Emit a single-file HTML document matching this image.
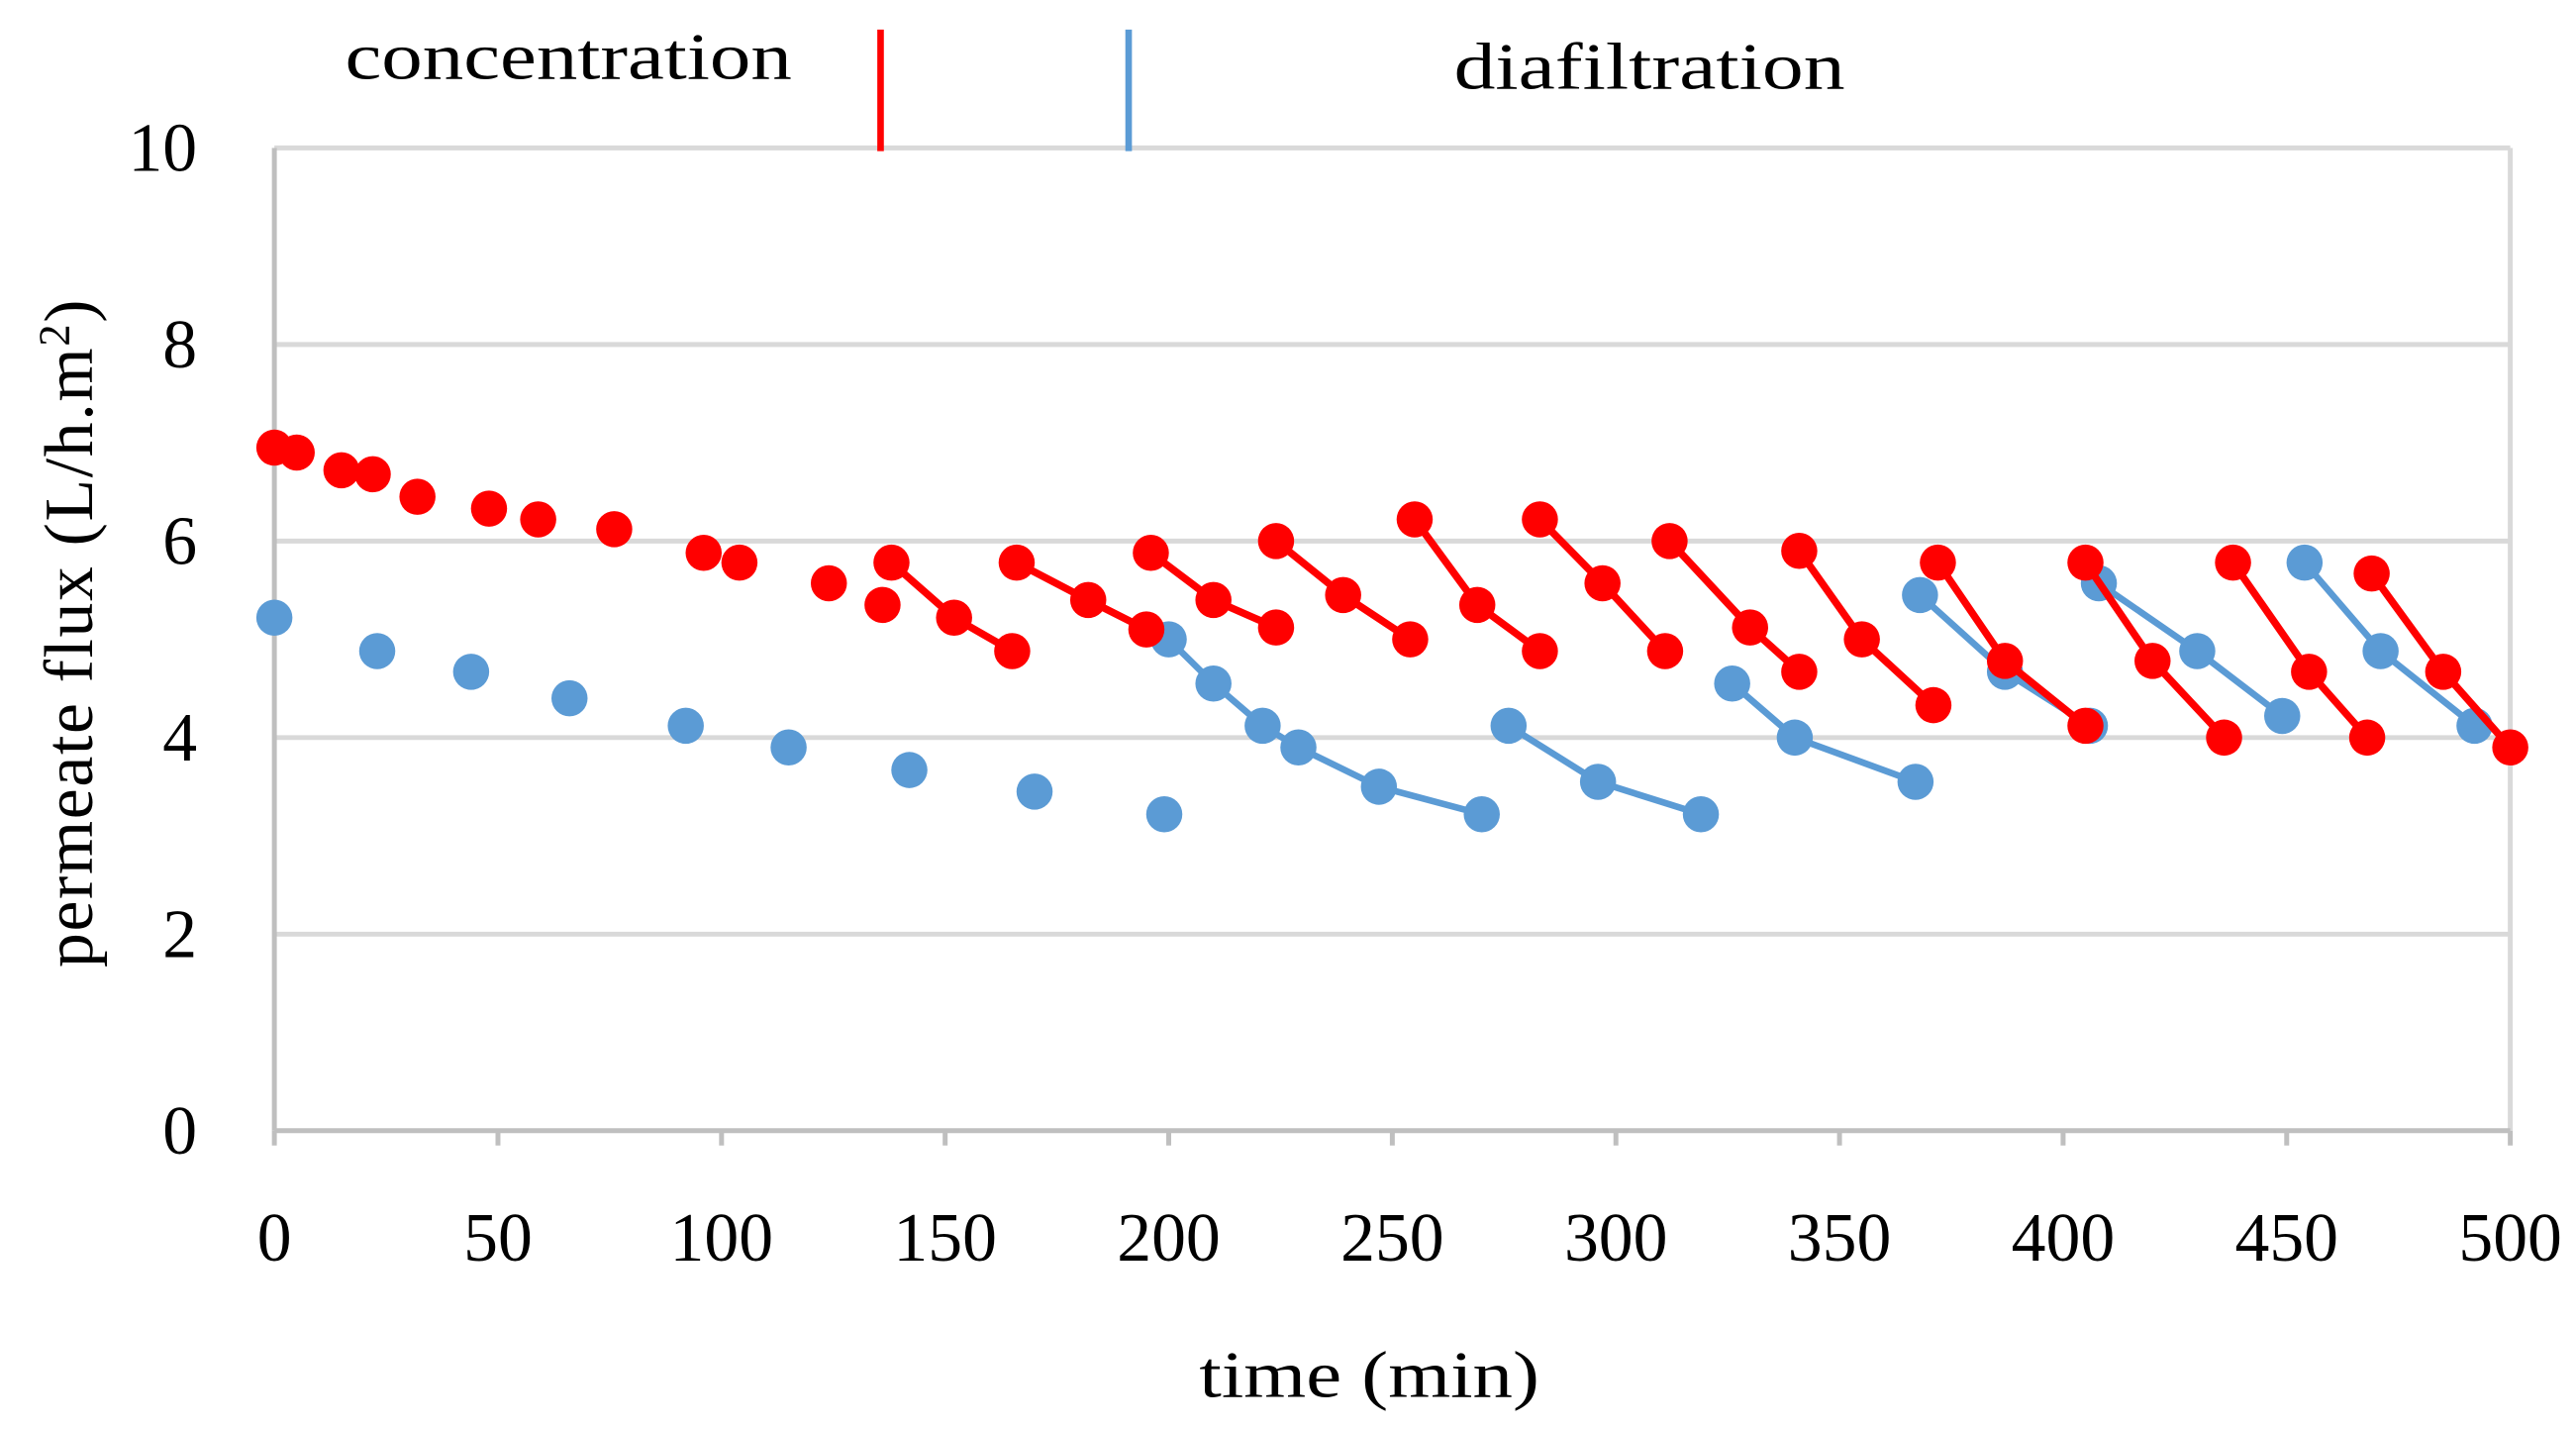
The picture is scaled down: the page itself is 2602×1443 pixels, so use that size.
<!DOCTYPE html>
<html><head><meta charset="utf-8"><style>
html,body{margin:0;padding:0;background:#fff;}
svg{display:block;}
text{font-family:"Liberation Serif",serif;fill:#000;}
</style></head><body>
<svg id="chart" width="2602" height="1443" viewBox="0 0 1568 869.5" preserveAspectRatio="none" xmlns="http://www.w3.org/2000/svg">
<g id="grid"></g>
<g id="axes"></g>
<g id="blue"></g>
<g id="red"></g>
<text x="210" y="48" font-size="40" textLength="272" lengthAdjust="spacingAndGlyphs">concentration</text>
<line x1="536" y1="18" x2="536" y2="92" stroke="#ff0000" stroke-width="4"/>
<line x1="687" y1="18" x2="687" y2="92" stroke="#5b9bd5" stroke-width="4"/>
<text x="885" y="54" font-size="40" textLength="238" lengthAdjust="spacingAndGlyphs">diafiltration</text>
<text x="730" y="850" font-size="40" textLength="207" lengthAdjust="spacingAndGlyphs">time (min)</text>
<text transform="translate(56,385) rotate(-90)" font-size="42" text-anchor="middle" letter-spacing="1">permeate flux (L/h.m<tspan dy="-14" font-size="27">2</tspan><tspan dy="14">)</tspan></text>
</svg>
<script>
const xTicks=[0,50,100,150,200,250,300,350,400,450,500];
const yTicks=[0,2,4,6,8,10];
const redDotsT=[0,5,15,22,32,48,59,76,96,104,124,136];
const redDotsV=[6.95,6.9,6.72,6.68,6.45,6.33,6.22,6.12,5.88,5.78,5.57,5.35];
const blueDotsT=[0,23,44,66,92,115,142,170,199];
const blueDotsV=[5.22,4.88,4.67,4.4,4.12,3.9,3.67,3.45,3.22];
const redSegT=[[138,152,165],[166,182,195],[196,210,224],[224,239,254],[255,269,283],[283,297,311],[312,330,341],[341,355,371],[372,387,405],[405,420,436],[438,455,468],[469,485,500]];
const redSegV=[[5.78,5.22,4.88],[5.78,5.4,5.1],[5.88,5.4,5.12],[6.0,5.45,5.0],[6.22,5.35,4.88],[6.22,5.57,4.88],[6.0,5.12,4.67],[5.9,5.0,4.33],[5.78,4.78,4.12],[5.78,4.78,4.0],[5.78,4.67,4.0],[5.67,4.67,3.9]];
const blueSegT=[[200,210,221,229,247,270],[276,296,319],[326,340,367],[368,387,406],[408,430,449],[454,471,492]];
const blueSegV=[[5.0,4.55,4.12,3.9,3.5,3.22],[4.12,3.55,3.22],[4.55,4.0,3.55],[5.45,4.67,4.12],[5.57,4.88,4.22],[5.78,4.88,4.12]];
const NS="http://www.w3.org/2000/svg";
const X0=167,X1=1528,Y0=688,Y1=90;
function xs(t){return X0+(t-0)/500*(X1-X0);}
function ys(v){return Y0-(v/10)*(Y0-Y1);}
function mk(tag,attrs,parent){const e=document.createElementNS(NS,tag);for(const k in attrs)e.setAttribute(k,attrs[k]);parent.appendChild(e);return e;}
const grid=document.getElementById('grid'),axes=document.getElementById('axes');
yTicks.forEach(v=>{
  if(v>0){const l=mk('line',{x1:X0,x2:X1,y1:ys(v),y2:ys(v),stroke:'#d9d9d9','stroke-width':3},grid);
  
  }
  const t=mk('text',{x:120,y:ys(v)+14,'font-size':42,'text-anchor':'end'},axes);
  t.textContent=v;
  
  
});
const rb=mk('line',{x1:X1,x2:X1,y1:Y1,y2:Y0,stroke:'#d9d9d9','stroke-width':3},grid);


const ya=mk('line',{x1:X0,x2:X0,y1:Y1,y2:Y0,stroke:'#bfbfbf','stroke-width':3},axes);


const xa=mk('line',{x1:X0,x2:X1,y1:Y0,y2:Y0,stroke:'#bfbfbf','stroke-width':3},axes);


xTicks.forEach(t=>{
  const tk=mk('line',{x1:xs(t),x2:xs(t),y1:Y0,y2:Y0+9,stroke:'#bfbfbf','stroke-width':3},axes);
  
  
  const tx=mk('text',{x:xs(t),y:767,'font-size':42,'text-anchor':'middle'},axes);
  tx.textContent=t;
  
  
});
function series(g,dT,dV,sT,sV,col,w){
  sT.forEach((seg,i)=>{
    const pts=seg.map((t,j)=>xs(t)+','+ys(sV[i][j])).join(' ');
    const pl=mk('polyline',{points:pts,fill:'none',stroke:col,'stroke-width':w},g);
    
    
    seg.forEach((t,j)=>{
      const c=mk('circle',{cx:xs(t),cy:ys(sV[i][j]),r:11,fill:col},g);
      
      
    });
  });
  dT.forEach((t,i)=>{
    const c=mk('circle',{cx:xs(t),cy:ys(dV[i]),r:11,fill:col},g);
    
    
  });
}
series(document.getElementById('blue'),blueDotsT,blueDotsV,blueSegT,blueSegV,'#5b9bd5',4);
series(document.getElementById('red'),redDotsT,redDotsV,redSegT,redSegV,'#ff0000',4.5);
</script>
</body></html>
